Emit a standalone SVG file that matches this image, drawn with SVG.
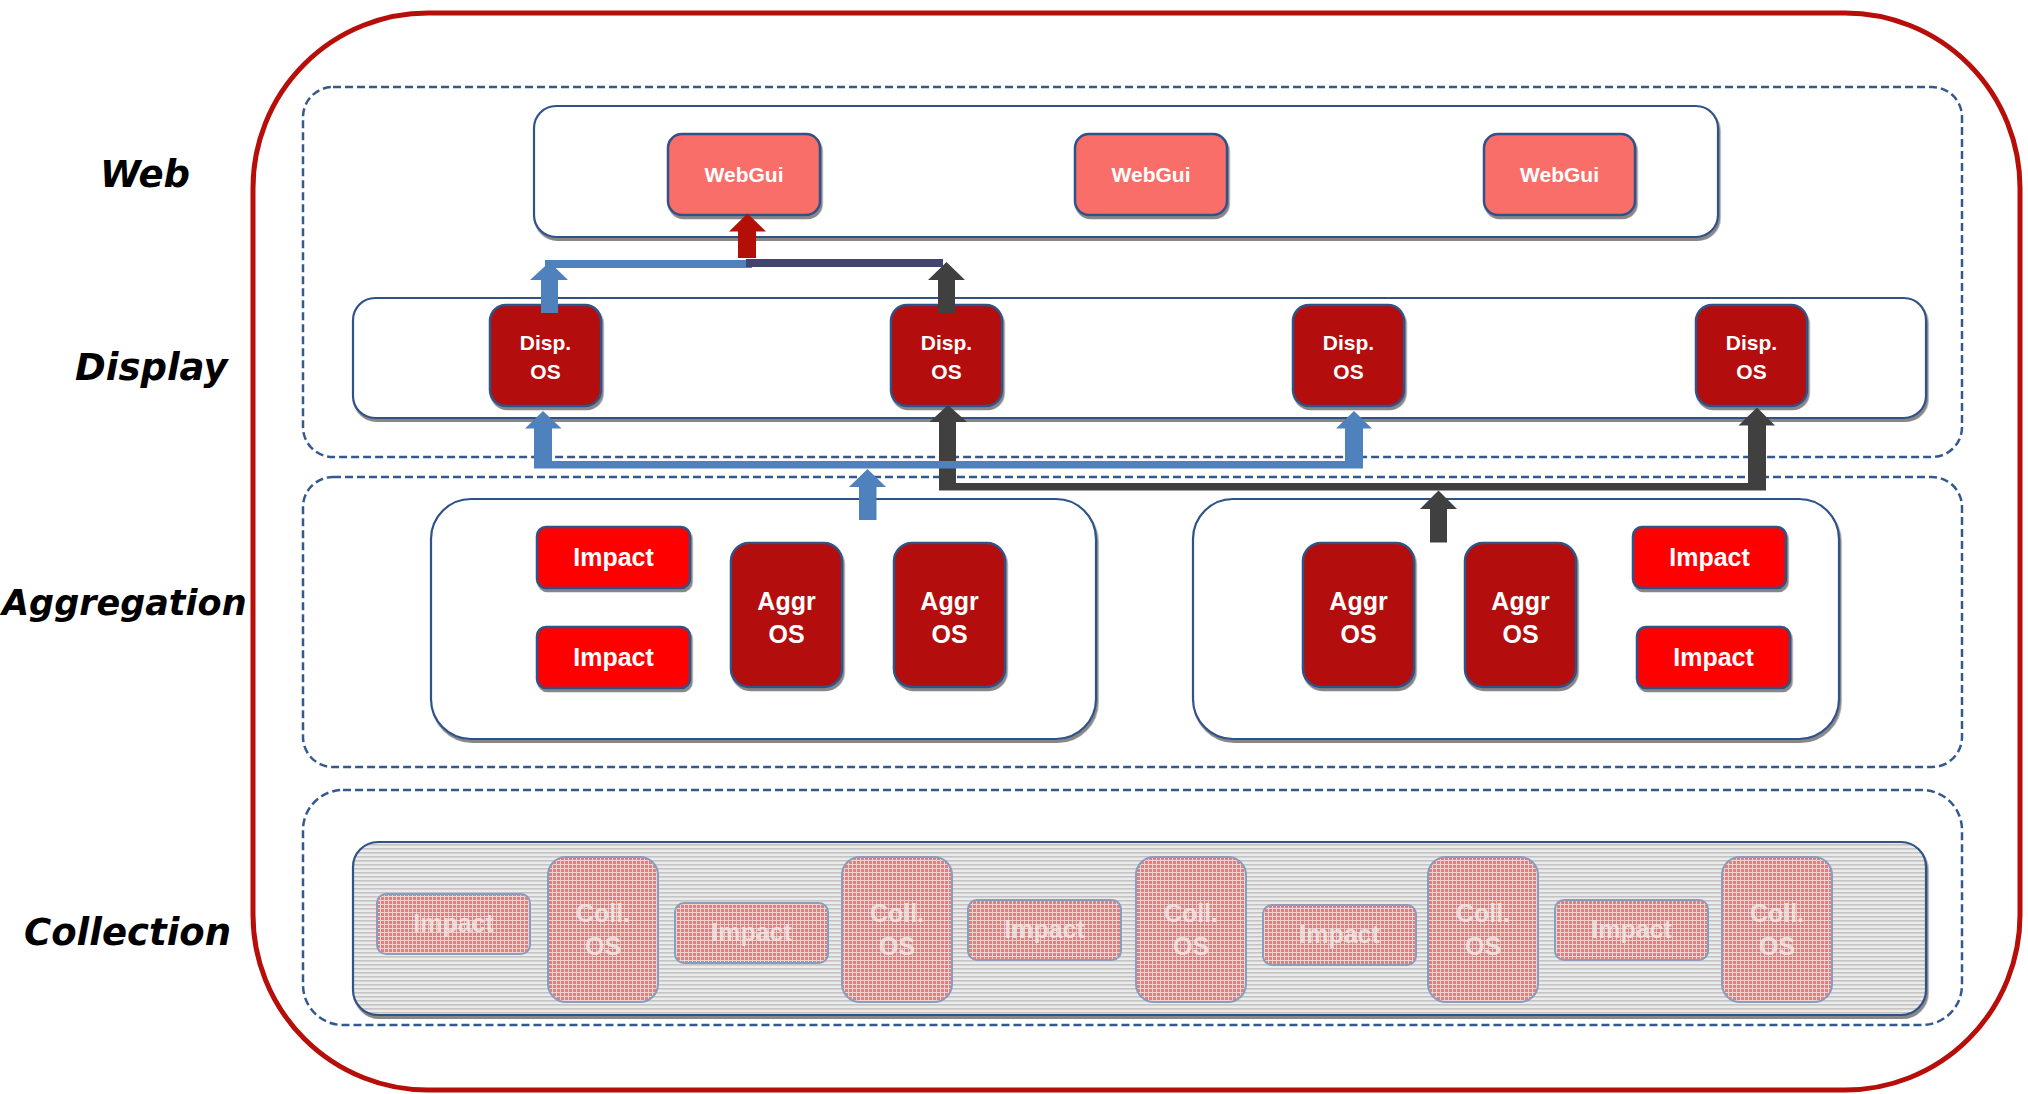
<svg xmlns="http://www.w3.org/2000/svg" width="2028" height="1094" viewBox="0 0 2028 1094">
<defs>
  <filter id="sh" x="-10%" y="-10%" width="120%" height="130%">
    <feDropShadow dx="1.5" dy="3" stdDeviation="0.7" flood-color="#7a7a7a" flood-opacity="0.9"/>
  </filter>
  <pattern id="grayLines" width="4" height="4" patternUnits="userSpaceOnUse">
    <rect width="4" height="4" fill="#EBEBEB"/>
    <rect y="0" width="4" height="1.6" fill="#C4C4C4"/>
  </pattern>
  <pattern id="pinkGrid" width="4" height="4" patternUnits="userSpaceOnUse">
    <rect width="4" height="4" fill="#E07E80"/>
    <rect x="0" y="0" width="4" height="1" fill="#F4D2D2"/>
    <rect x="0" y="0" width="1" height="4" fill="#F4D2D2"/>
  </pattern>
  <style>
    .outer{fill:none;stroke:#B80E0A;stroke-width:5}
    .layer{fill:none;stroke:#34598F;stroke-width:2.5;stroke-dasharray:8 4}
    .cont{fill:#fff;stroke:#2F5289;stroke-width:2.2;filter:url(#sh)}
    .web{fill:#FA6E6A;stroke:#2F5289;stroke-width:2.5;filter:url(#sh)}
    .dark{fill:#B40F07;stroke:#2F5289;stroke-width:2.5;filter:url(#sh)}
    .imp{fill:#FF0000;stroke:#2F5289;stroke-width:2.5;filter:url(#sh)}
    .fade{fill:url(#pinkGrid);stroke:#8A9CC0;stroke-width:2}
    .ntxt{font-family:"Liberation Sans",Arial,sans-serif;font-weight:bold;fill:#fff;text-anchor:middle}
    .ftxt{font-family:"Liberation Sans",Arial,sans-serif;font-weight:bold;fill:#F7EAEA;fill-opacity:0.8;text-anchor:middle}
    .lbl{font-family:"DejaVu Sans",sans-serif;font-weight:bold;font-style:italic;font-size:37px;fill:#000}
    .blue{fill:#4F81BD}
    .gray{fill:#404040}
    .navy{fill:#44456E}
    .red{fill:#B40F07}
  </style>
</defs>
<rect width="2028" height="1094" fill="#fff"/>

<!-- labels -->
<g id="labels">
  <text class="lbl" x="100" y="187">Web</text>
  <text class="lbl" x="75" y="380">Display</text>
  <text class="lbl" x="2" y="615" font-size="35" style="font-size:35px">Aggregation</text>
  <text class="lbl" x="24" y="945">Collection</text>
</g>

<!-- frame and layers -->
<g id="frame">
  <rect class="outer" x="253" y="13" width="1767" height="1077" rx="175" ry="175"/>
  <rect class="layer" x="303" y="87" width="1659" height="370" rx="30" ry="30"/>
  <rect class="layer" x="303" y="477" width="1659" height="290" rx="30" ry="30"/>
  <rect class="layer" x="303" y="790" width="1659" height="235" rx="40" ry="40"/>
</g>

<!-- containers -->
<g id="containers">
  <rect id="web-tier" class="cont" x="534" y="106" width="1184" height="131" rx="22"/>
  <rect id="display-tier" class="cont" x="353" y="298" width="1573" height="120" rx="22"/>
  <rect id="agg-left" class="cont" x="431" y="499" width="665" height="240" rx="40"/>
  <rect id="agg-right" class="cont" x="1193" y="499" width="646" height="240" rx="40"/>
  <rect id="coll-tier" x="353" y="842" width="1573" height="173" rx="25" fill="url(#grayLines)" stroke="#2F5289" stroke-width="2.2" filter="url(#sh)"/>
</g>

<!-- web nodes -->
<g id="webgui1"><rect class="web" x="668" y="134" width="152" height="81" rx="14"/><text class="ntxt" x="744" y="182" font-size="21">WebGui</text></g>
<g id="webgui2"><rect class="web" x="1075" y="134" width="152" height="81" rx="14"/><text class="ntxt" x="1151" y="182" font-size="21">WebGui</text></g>
<g id="webgui3"><rect class="web" x="1484" y="134" width="151" height="81" rx="14"/><text class="ntxt" x="1559.5" y="182" font-size="21">WebGui</text></g>

<!-- display nodes -->
<g id="disp1"><rect class="dark" x="490" y="305" width="111" height="101" rx="16"/><text class="ntxt" x="545.5" y="350" font-size="21">Disp.</text><text class="ntxt" x="545.5" y="379" font-size="21">OS</text></g>
<g id="disp2"><rect class="dark" x="891" y="305" width="111" height="101" rx="16"/><text class="ntxt" x="946.5" y="350" font-size="21">Disp.</text><text class="ntxt" x="946.5" y="379" font-size="21">OS</text></g>
<g id="disp3"><rect class="dark" x="1293" y="305" width="111" height="101" rx="16"/><text class="ntxt" x="1348.5" y="350" font-size="21">Disp.</text><text class="ntxt" x="1348.5" y="379" font-size="21">OS</text></g>
<g id="disp4"><rect class="dark" x="1696" y="305" width="111" height="101" rx="16"/><text class="ntxt" x="1751.5" y="350" font-size="21">Disp.</text><text class="ntxt" x="1751.5" y="379" font-size="21">OS</text></g>

<!-- aggregation nodes -->
<g id="impact-l1"><rect class="imp" x="537" y="527" width="153" height="61" rx="9"/><text class="ntxt" x="613.5" y="566" font-size="25">Impact</text></g>
<g id="impact-l2"><rect class="imp" x="537" y="627" width="153" height="61" rx="9"/><text class="ntxt" x="613.5" y="666" font-size="25">Impact</text></g>
<g id="aggr1"><rect class="dark" x="731" y="543" width="111" height="144" rx="18"/><text class="ntxt" x="786.5" y="610" font-size="25">Aggr</text><text class="ntxt" x="786.5" y="643" font-size="25">OS</text></g>
<g id="aggr2"><rect class="dark" x="894" y="543" width="111" height="144" rx="18"/><text class="ntxt" x="949.5" y="610" font-size="25">Aggr</text><text class="ntxt" x="949.5" y="643" font-size="25">OS</text></g>
<g id="aggr3"><rect class="dark" x="1303" y="543" width="111" height="144" rx="18"/><text class="ntxt" x="1358.5" y="610" font-size="25">Aggr</text><text class="ntxt" x="1358.5" y="643" font-size="25">OS</text></g>
<g id="aggr4"><rect class="dark" x="1465" y="543" width="111" height="144" rx="18"/><text class="ntxt" x="1520.5" y="610" font-size="25">Aggr</text><text class="ntxt" x="1520.5" y="643" font-size="25">OS</text></g>
<g id="impact-r1"><rect class="imp" x="1633" y="527" width="153" height="61" rx="9"/><text class="ntxt" x="1709.5" y="566" font-size="25">Impact</text></g>
<g id="impact-r2"><rect class="imp" x="1637" y="627" width="153" height="61" rx="9"/><text class="ntxt" x="1713.5" y="666" font-size="25">Impact</text></g>

<!-- collection nodes (faded) -->
<g id="coll-impact1"><rect class="fade" x="377" y="894" width="153" height="60" rx="9"/><text class="ftxt" x="453.5" y="932" font-size="25">Impact</text></g>
<g id="coll-os1"><rect class="fade" x="548" y="857" width="110" height="145" rx="18"/><text class="ftxt" x="603" y="922" font-size="25">Coll.</text><text class="ftxt" x="603" y="955" font-size="25">OS</text></g>
<g id="coll-impact2"><rect class="fade" x="675" y="903" width="153" height="60" rx="9"/><text class="ftxt" x="751.5" y="941" font-size="25">Impact</text></g>
<g id="coll-os2"><rect class="fade" x="842" y="857" width="110" height="145" rx="18"/><text class="ftxt" x="897" y="922" font-size="25">Coll.</text><text class="ftxt" x="897" y="955" font-size="25">OS</text></g>
<g id="coll-impact3"><rect class="fade" x="968" y="900" width="153" height="60" rx="9"/><text class="ftxt" x="1044.5" y="938" font-size="25">Impact</text></g>
<g id="coll-os3"><rect class="fade" x="1136" y="857" width="110" height="145" rx="18"/><text class="ftxt" x="1191" y="922" font-size="25">Coll.</text><text class="ftxt" x="1191" y="955" font-size="25">OS</text></g>
<g id="coll-impact4"><rect class="fade" x="1263" y="905" width="153" height="60" rx="9"/><text class="ftxt" x="1339.5" y="943" font-size="25">Impact</text></g>
<g id="coll-os4"><rect class="fade" x="1428" y="857" width="110" height="145" rx="18"/><text class="ftxt" x="1483" y="922" font-size="25">Coll.</text><text class="ftxt" x="1483" y="955" font-size="25">OS</text></g>
<g id="coll-impact5"><rect class="fade" x="1555" y="900" width="153" height="60" rx="9"/><text class="ftxt" x="1631.5" y="938" font-size="25">Impact</text></g>
<g id="coll-os5"><rect class="fade" x="1722" y="857" width="110" height="145" rx="18"/><text class="ftxt" x="1777" y="922" font-size="25">Coll.</text><text class="ftxt" x="1777" y="955" font-size="25">OS</text></g>

<!-- connectors -->
<g id="connectors">
  <!-- display to web -->
  <rect class="blue" x="545" y="260" width="207" height="8"/>
  <polygon class="blue" points="541,313 541,280 530,280 549.5,262 568,280 558,280 558,313"/>
  <rect class="navy" x="746" y="259" width="197" height="8"/>
  <polygon class="gray" points="938,313 938,280 928,280 946.5,262 965,280 955,280 955,313"/>
  <polygon class="red" points="738,258 738,231.5 729,231.5 747.5,213.5 766,231.5 756,231.5 756,258"/>
  <!-- aggregation (right) to display 2 and 4 -->
  <rect class="gray" x="939" y="483" width="827" height="7.5"/>
  <polygon class="gray" points="939,490 939,422 929.5,422 948,405 967,422 956,422 956,490"/>
  <polygon class="gray" points="1748,490 1748,425.5 1738.5,425.5 1757,407.5 1775,425.5 1766,425.5 1766,490"/>
  <polygon class="gray" points="1430,542.5 1430,509 1420,509 1438.5,490.5 1457,509 1447,509 1447,542.5"/>
  <!-- aggregation (left) to display 1 and 3 -->
  <rect class="blue" x="534" y="461" width="829" height="7.5"/>
  <polygon class="blue" points="534,468 534,428.5 525,428.5 543,411 561.5,428.5 552,428.5 552,468"/>
  <polygon class="blue" points="1345,468 1345,428.5 1336,428.5 1354,411 1372,428.5 1363,428.5 1363,468"/>
  <polygon class="blue" points="859,520 859,487 849,487 867.5,469 886,487 876.5,487 876.5,520"/>
</g>
</svg>
